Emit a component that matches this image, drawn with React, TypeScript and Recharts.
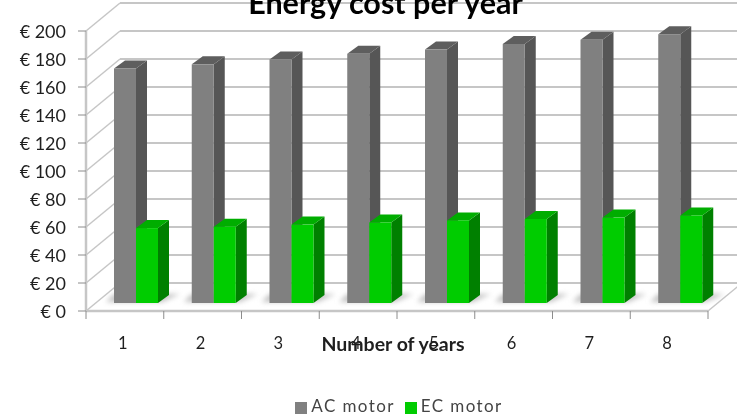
import React from "react";
import { BarChart, Bar, XAxis, YAxis, CartesianGrid, Legend } from "recharts";

const years = ["1", "2", "3", "4", "5", "6", "7", "8"];
const acMotor = [167.5, 170.5, 174, 178, 181, 185, 188, 192];
const ecMotor = [53.5, 54.5, 56, 57.5, 59, 60, 61, 62.5];
const yTicks = [0, 20, 40, 60, 80, 100, 120, 140, 160, 180, 200];
const data = years.map((year, i) => ({ year, ac: acMotor[i], ec: ecMotor[i] }));

const FONT = "Lato, 'Open Sans', sans-serif";
const TEXT = "#1f1f1f";
const GRID = "#c6c6c6";
const SHIFT_X = 11;
const SHIFT_Y = 8;
const DEPTH_X = 11;
const DEPTH_Y = 8;
const WALL_X = 34;
const WALL_Y = 28;

const Bar3D = (colors: { front: string; side: string; top: string; shadow?: boolean }) => (p: any) => {
  const x = p.x + SHIFT_X;
  const y = p.y - SHIFT_Y;
  const w = p.width;
  const h = p.height;
  const b = y + h;
  return (
    <g>
      {colors.shadow ? (
        <polygon
          points={`${x - 8},${b - 1} ${x + 2 * w + 4},${b - 1} ${x + 2 * w + 22},${b - 9} ${x},${b - 9}`}
          fill="#c2c2c2"
          style={{ filter: "blur(2.5px)" }}
        />
      ) : null}
      <polygon
        points={`${x + w},${y} ${x + w + DEPTH_X},${y - DEPTH_Y} ${x + w + DEPTH_X},${b - DEPTH_Y} ${x + w},${b}`}
        fill={colors.side}
      />
      <polygon
        points={`${x},${y} ${x + DEPTH_X},${y - DEPTH_Y} ${x + w + DEPTH_X},${y - DEPTH_Y} ${x + w},${y}`}
        fill={colors.top}
      />
      <rect x={x} y={y} width={w} height={h} fill={colors.front} />
    </g>
  );
};

const GridLine = (p: any) => {
  const { x1, x2, y1, index } = p;
  const isFloor = Math.abs(y1 - 311) < 1;
  return (
    <g key={`grid-${index}`}>
      {isFloor ? (
        <polygon
          points={`${x1},${y1} ${x2},${y1} ${x2 + WALL_X},${y1 - WALL_Y} ${x1 + WALL_X},${y1 - WALL_Y}`}
          fill="#ffffff"
        />
      ) : null}
      <line x1={x1 + WALL_X} y1={y1 - WALL_Y} x2={x2 + WALL_X} y2={y1 - WALL_Y} stroke={GRID} strokeWidth={2} />
      <line x1={x1} y1={y1} x2={x1 + WALL_X} y2={y1 - WALL_Y} stroke={GRID} strokeWidth={1.5} />
      {isFloor ? (
        <>
          <line x1={x2} y1={y1} x2={x2 + WALL_X} y2={y1 - WALL_Y} stroke={GRID} strokeWidth={1.5} />
          <line x1={x1} y1={y1} x2={x2} y2={y1} stroke={GRID} strokeWidth={2.5} />
        </>
      ) : null}
    </g>
  );
};

const XTick = (p: any) => {
  const band = 622 / years.length;
  const cx = p.payload.coordinate ?? p.x;
  const last = p.index === years.length - 1;
  const top = 311;
  return (
    <g>
      <line x1={cx - band / 2} y1={top} x2={cx - band / 2} y2={top + 8} stroke="#8c8c8c" />
      {last ? <line x1={cx + band / 2} y1={top} x2={cx + band / 2} y2={top + 8} stroke="#8c8c8c" /> : null}
      <text x={cx - 2} y={349} textAnchor="middle" fontFamily={FONT} fontSize={16.5} fill={TEXT}>
        {p.payload.value}
      </text>
    </g>
  );
};

export default function App() {
  return (
    <div style={{ position: "absolute", left: 0, top: 0, width: 737, height: 416, overflow: "hidden", background: "#fff", filter: "blur(0.6px)" }}>
      <div
        style={{
          position: "absolute",
          left: 0,
          width: 771,
          top: -13,
          textAlign: "center",
          fontFamily: FONT,
          fontWeight: 700,
          fontSize: 30.5,
          lineHeight: "30px",
          color: "#000",
          zIndex: 2,
        }}
      >
        Energy cost per year
      </div>
      <BarChart
        width={737}
        height={416}
        data={data}
        barSize={22}
        barGap={0}
        barCategoryGap={0}
        margin={{ top: 31, right: 29, left: 0, bottom: 54 }}
      >
        <CartesianGrid vertical={false} horizontal={GridLine as any} />
        <XAxis
          dataKey="year"
          tick={XTick as any}
          tickLine={false}
          axisLine={false}
          height={30}
          interval={0}
          label={{
            value: "Number of years",
            position: "insideTop",
            dx: -4,
            dy: 21,
            style: { fontFamily: FONT, fontWeight: 700, fontSize: 19.5, fill: TEXT },
          }}
        />
        <YAxis
          domain={[0, 200]}
          ticks={yTicks}
          interval={0}
          width={86}
          tickSize={8}
          tickMargin={12}
          tickFormatter={(v: number) => `€ ${v}`}
          tick={{ fontFamily: FONT, fontSize: 18, fill: TEXT, dy: 1 }}
          axisLine={{ stroke: GRID, strokeWidth: 2.5 }}
          tickLine={{ stroke: "#8c8c8c" }}
        />
        <Legend
          iconType="square"
          iconSize={12}
          align="center"
          verticalAlign="bottom"
          wrapperStyle={{ bottom: 0, left: 50, fontFamily: FONT, fontSize: 17, letterSpacing: 1.4 }}
          formatter={(v: string) => <span style={{ color: "#444" }}>{v}</span>}
        />
        <Bar
          dataKey="ac"
          name="AC motor"
          fill="#808080"
          isAnimationActive={false}
          shape={Bar3D({ front: "#808080", side: "#565656", top: "#5e5e5e", shadow: true }) as any}
        />
        <Bar
          dataKey="ec"
          name="EC motor"
          fill="#00cc00"
          isAnimationActive={false}
          shape={Bar3D({ front: "#00cc00", side: "#008000", top: "#00ad00" }) as any}
        />
      </BarChart>
    </div>
  );
}
